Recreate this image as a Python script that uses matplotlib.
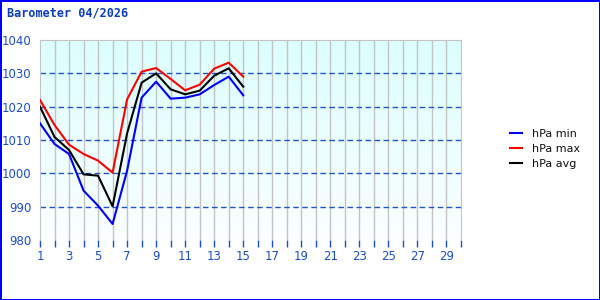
import numpy as np
import matplotlib
matplotlib.use('Agg')
import matplotlib.pyplot as plt

days = [1, 2, 3, 4, 5, 6, 7, 8, 9, 10, 11, 12, 13, 14, 15]
hpa_min = [1015, 1008.8, 1005.8, 994.8, 990.3, 984.8, 1000.8, 1022.7, 1027.5, 1022.4, 1022.7, 1023.7, 1026.5, 1029, 1023.4]
hpa_max = [1022, 1014.5, 1008.6, 1005.8, 1003.8, 1000.2, 1022.2, 1030.5, 1031.6, 1028.3, 1024.9, 1026.6, 1031.4, 1033.2, 1029]
hpa_avg = [1020, 1010.9, 1007, 999.7, 999.3, 990.1, 1012, 1027.2, 1030, 1025.2, 1023.7, 1024.8, 1029.3, 1031.5, 1026]
title = 'Barometer 04/2026'

tick_blue = '#1a4fcc'

fig = plt.figure(figsize=(6, 3), dpi=100)
fig.patch.set_edgecolor('#0000ff')
fig.patch.set_linewidth(2)
ax = fig.add_axes([40/600, 0.2, 421/600, 200/300])

# cyan (top) to white (bottom) background gradient
grad = np.linspace(0, 1, 256).reshape(-1, 1)
cmap = matplotlib.colors.LinearSegmentedColormap.from_list('bg', ['#dcfefe', '#fbffff'])
ax.imshow(grad, extent=[1, 30, 980, 1040], origin='upper', aspect='auto', cmap=cmap, zorder=0)

ax.set_xlim(1, 30)
ax.set_ylim(980, 1040)

for d in range(2, 30):
    ax.axvline(d, color='#c4c4c4', lw=1, zorder=1)
for v in [990, 1000, 1010, 1020, 1030]:
    ax.axhline(v, color='#2255cc', lw=1, ls=(0, (4, 2.5)), zorder=1)

ax.plot(days, hpa_min, color='#0000ff', lw=1.5, label='hPa min', zorder=3)
ax.plot(days, hpa_max, color='#ff0000', lw=1.5, label='hPa max', zorder=3)
ax.plot(days, hpa_avg, color='#000000', lw=1.5, label='hPa avg', zorder=3)

ax.set_xticks(range(1, 31))
ax.set_xticklabels([str(d) if d % 2 == 1 else '' for d in range(1, 31)])
ax.set_yticks([980, 990, 1000, 1010, 1020, 1030, 1040])
ax.tick_params(axis='x', colors=tick_blue, length=5, width=1, labelsize=8.5, pad=2)
ax.tick_params(axis='y', colors=tick_blue, length=0, labelsize=8.5, pad=6)
for s in ax.spines.values():
    s.set_color('#c4c4c4')
ax.spines['bottom'].set_visible(False)

fig.text(7/600, 1 - 13/300, title, family='DejaVu Sans Mono', weight='bold',
         fontsize=8.5, color='#0a3cc4', va='center', ha='left')

leg = fig.legend(loc='center left', bbox_to_anchor=(500/600, 1 - 149/300), frameon=False,
                 fontsize=8, handlelength=1.1, handletextpad=0.9, labelspacing=0.45)
for t in leg.get_texts():
    t.set_color('#111111')

fig.savefig('out.png', dpi=100, edgecolor=fig.get_edgecolor())
